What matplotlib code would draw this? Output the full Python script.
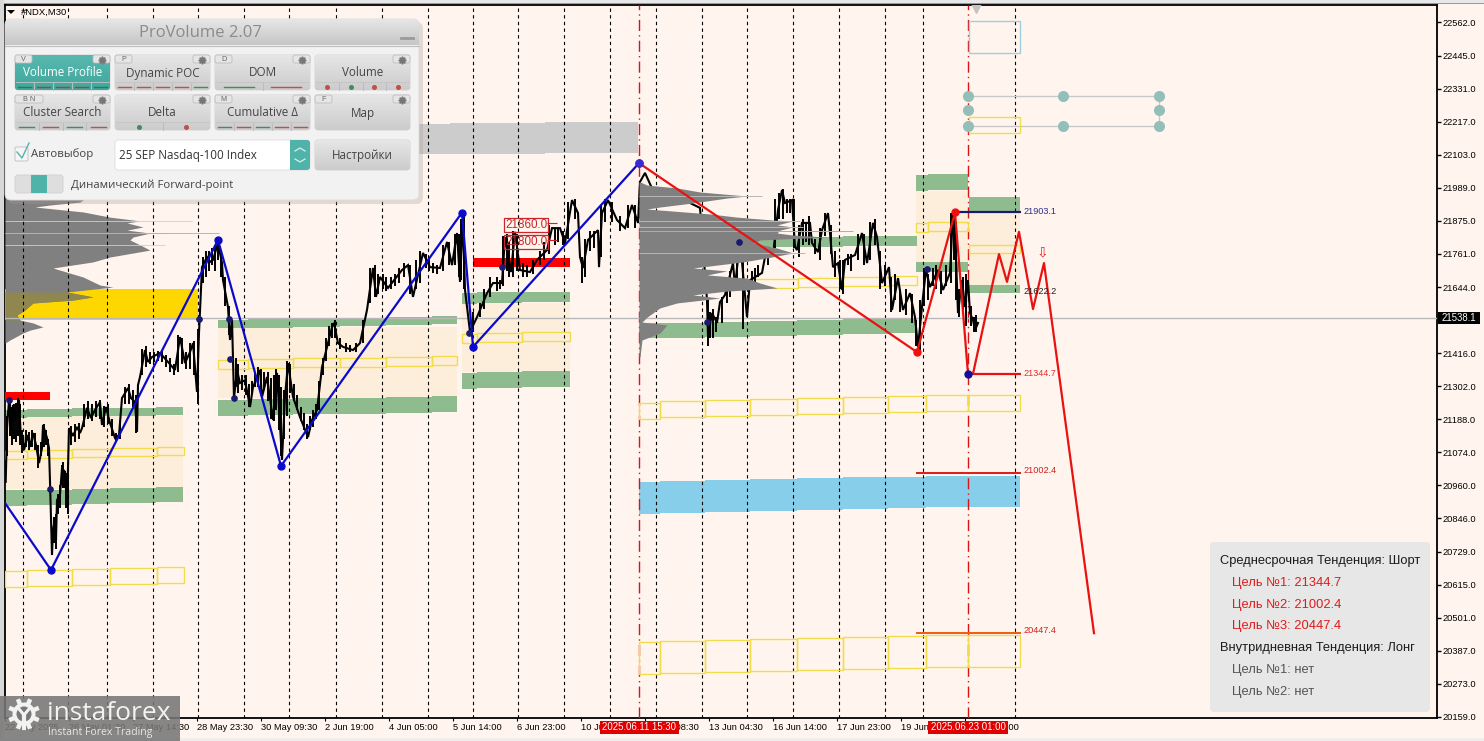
import numpy as np
import matplotlib
matplotlib.use('Agg')
import matplotlib.pyplot as plt
from matplotlib.patches import Rectangle, FancyBboxPatch, Circle, Polygon

# axis labels
price_ticks = [22562, 22445, 22331, 22217, 22103, 21989, 21875, 21761, 21644, 21416, 21302,
               21188, 21074, 20960, 20846, 20729, 20615, 20501, 20387, 20273, 20159]
time_pos = [5, 69, 133, 197, 261, 325, 389, 453, 517, 581, 645, 709, 773, 837, 901, 965]
time_labels = ['22 May 2025', '26 May 01:30', '27 May 14:30', '28 May 23:30', '30 May 09:30',
               '2 Jun 19:00', '4 Jun 05:00', '5 Jun 14:00', '6 Jun 23:00', '10 Jun 09:00',
               '12 Jun 08:30', '13 Jun 04:30', '16 Jun 14:00', '17 Jun 23:00', '19 Jun 09:00',
               '23 Jun 03:00']
grid_x = [23, 68, 107, 153, 198, 244, 289, 336, 382, 428, 473, 518, 564, 610, 656, 702, 747,
          793, 839, 885, 923, 1015]
marker_x = [639, 968]
last_price = 21538.1

# M30 price line
price_x = [5.7, 7, 9, 11, 13, 15, 17, 19, 21, 23, 24, 28, 30, 33, 36, 39, 42, 43, 47, 49, 50, 52,
           53, 55, 56, 57, 60, 62, 65, 67, 69, 73, 77, 80, 82, 87, 91, 95, 100, 102, 106, 110,
           115, 119, 122, 124, 128, 131, 135, 137, 138, 140, 145, 148, 152, 160, 168, 175, 180,
           185, 190, 193, 197, 199, 202, 207, 210, 213, 218, 222, 223, 228, 230, 232, 234, 237,
           240, 245, 250, 253, 260, 262, 267, 273, 277, 282, 285, 288, 293, 300, 308, 312, 317,
           322, 332, 334, 338, 343, 353, 360, 367, 373, 376, 380, 388, 402, 408, 413, 423, 430,
           440, 447, 452, 457, 460, 463, 465, 470, 477, 487, 493, 502, 505, 511, 515, 520, 530,
           537, 547, 552, 560, 565, 572, 578, 580, 583, 588, 598, 599, 602, 608, 617, 625, 632,
           638, 640, 645, 655, 670, 690, 700, 707, 708, 712, 717, 720, 725, 733, 735, 740, 747,
           750, 762, 765, 773, 778, 782, 785, 792, 795, 797, 802, 810, 812, 818, 822, 828, 830,
           833, 838, 842, 845, 855, 862, 867, 873, 877, 882, 889, 892, 898, 903, 910, 915, 918,
           923, 926, 930, 938, 943, 950, 953, 955, 958, 962, 965, 968, 970, 973, 975, 978]
price_y = [20971, 21157, 21254, 21150, 21237, 21185, 21237, 21254, 21116, 21133, 21081, 21133,
           21092, 21140, 21099, 21036, 21088, 21168, 21123, 21088, 20971, 20718, 20804, 20846,
           20770, 20908, 20926, 21019, 21005, 20881, 21157, 21130, 21161, 21140, 21157, 21227,
           21192, 21220, 21247, 21168, 21230, 21175, 21123, 21133, 21261, 21272, 21296, 21261,
           21247, 21144, 21306, 21334, 21427, 21386, 21403, 21417, 21386, 21358, 21472, 21382,
           21420, 21451, 21282, 21486, 21714, 21749, 21732, 21739, 21798, 21728, 21669, 21576,
           21462, 21531, 21261, 21358, 21313, 21323, 21230, 21299, 21358, 21265, 21334, 21185,
           21348, 21047, 21265, 21382, 21265, 21195, 21126, 21185, 21220, 21368, 21507, 21521,
           21451, 21438, 21427, 21451, 21566, 21711, 21611, 21680, 21642, 21704, 21721, 21611,
           21763, 21714, 21711, 21801, 21721, 21832, 21663, 21887, 21635, 21490, 21541, 21624,
           21659, 21659, 21818, 21697, 21836, 21704, 21697, 21739, 21773, 21849, 21849, 21798,
           21946, 21901, 21749, 21711, 21808, 21842, 21714, 21901, 21946, 21877, 21849, 21929,
           21867, 22009, 22040, 21964, 21946, 21936, 21919, 21600, 21472, 21555, 21521, 21593,
           21618, 21728, 21645, 21808, 21541, 21669, 21694, 21749, 21756, 21912, 21981, 21936,
           21946, 21784, 21773, 21867, 21867, 21798, 21766, 21842, 21901, 21832, 21714, 21728,
           21635, 21739, 21756, 21832, 21728, 21867, 21818, 21659, 21714, 21566, 21676, 21566,
           21624, 21541, 21438, 21611, 21704, 21645, 21704, 21635, 21694, 21901, 21842, 21555,
           21669, 21576, 21669, 21555, 21531, 21496, 21521]

# bar ranges along the line
bar_x = [7, 10, 12, 14, 16, 18, 20, 22, 26, 29, 32, 35, 38, 41, 44, 46, 48, 54, 56, 58, 60, 62, 63, 65,
         66, 68, 71, 75, 79, 84, 88, 92, 96, 100, 104, 108, 112, 116, 120, 125, 129, 133, 136, 142, 146,
         150, 154, 158, 162, 166, 170, 174, 178, 182, 186, 190, 194, 198, 203, 206, 209, 212, 215, 218,
         221, 225, 229, 236, 238, 242, 246, 249, 252, 255, 258, 261, 264, 268, 271, 274, 276, 279, 281,
         284, 287, 290, 294, 297, 301, 304, 307, 310, 313, 316, 319, 323, 326, 329, 332, 335, 340, 346,
         350, 356, 363, 370, 375, 378, 383, 386, 391, 395, 399, 404, 410, 416, 420, 426, 429, 433, 437,
         443, 449, 455, 459, 461, 464, 473, 480, 484, 490, 497, 500, 503, 507, 509, 513, 517, 523, 527,
         533, 540, 544, 549, 555, 558, 563, 568, 575, 582, 585, 590, 594, 601, 605, 612, 620, 628, 635,
         708, 710, 713, 716, 722, 727, 730, 737, 743, 752, 755, 758, 768, 775, 779, 783, 787, 790, 794,
         799, 803, 806, 809, 815, 820, 825, 831, 835, 840, 843, 848, 851, 858, 864, 870, 875, 880, 885,
         891, 895, 900, 906, 912, 916, 920, 924, 928, 933, 936, 941, 946, 951, 954, 956, 959, 963, 966,
         971, 974, 976]
bar_lo = [21060, 21130, 21100, 21120, 21110, 21130, 21100, 21070, 21090, 21080, 21090, 21080, 21020,
          21060, 21090, 21100, 21060, 20760, 20740, 20860, 20880, 20960, 20950, 20950, 20880, 20860,
          21100, 21110, 21120, 21160, 21190, 21180, 21195, 21190, 21160, 21170, 21130, 21110, 21120,
          21240, 21240, 21230, 21140, 21340, 21370, 21380, 21385, 21390, 21385, 21370, 21350, 21340,
          21350, 21380, 21360, 21360, 21340, 21240, 21660, 21680, 21700, 21720, 21700, 21740, 21680,
          21580, 21480, 21300, 21280, 21290, 21270, 21230, 21280, 21300, 21300, 21270, 21290, 21250,
          21190, 21180, 21220, 21150, 21060, 21120, 21200, 21280, 21250, 21220, 21180, 21150, 21120,
          21150, 21160, 21190, 21220, 21340, 21390, 21440, 21470, 21470, 21430, 21420, 21420, 21420,
          21450, 21590, 21610, 21620, 21640, 21630, 21640, 21650, 21660, 21680, 21620, 21640, 21660,
          21710, 21700, 21695, 21690, 21700, 21720, 21720, 21680, 21670, 21640, 21490, 21540, 21570,
          21610, 21630, 21640, 21650, 21700, 21680, 21680, 21700, 21680, 21680, 21690, 21720, 21740,
          21760, 21790, 21800, 21790, 21810, 21880, 21660, 21680, 21770, 21780, 21750, 21870, 21870,
          21840, 21850, 21850, 21440, 21470, 21470, 21490, 21520, 21590, 21610, 21640, 21500, 21650,
          21660, 21680, 21720, 21780, 21880, 21880, 21900, 21900, 21780, 21750, 21790, 21800, 21790,
          21760, 21740, 21820, 21760, 21680, 21640, 21620, 21720, 21700, 21740, 21720, 21740, 21790,
          21640, 21650, 21560, 21600, 21560, 21550, 21520, 21440, 21420, 21580, 21600, 21650, 21640,
          21620, 21650, 21660, 21740, 21600, 21540, 21560, 21510, 21510, 21490, 21490]
bar_hi = [21200, 21250, 21230, 21240, 21245, 21260, 21240, 21150, 21150, 21145, 21150, 21140, 21100,
          21110, 21170, 21150, 21120, 20850, 20860, 20930, 20960, 21030, 21040, 21010, 21000, 21020,
          21165, 21170, 21175, 21240, 21250, 21240, 21250, 21255, 21235, 21240, 21190, 21140, 21180,
          21300, 21310, 21290, 21270, 21430, 21440, 21420, 21420, 21425, 21425, 21410, 21400, 21380,
          21480, 21470, 21420, 21450, 21460, 21500, 21750, 21770, 21770, 21780, 21790, 21800, 21770,
          21680, 21580, 21400, 21380, 21340, 21340, 21310, 21320, 21350, 21370, 21360, 21350, 21350,
          21330, 21340, 21360, 21340, 21300, 21290, 21390, 21380, 21310, 21270, 21230, 21210, 21170,
          21200, 21220, 21240, 21320, 21400, 21470, 21510, 21520, 21530, 21470, 21450, 21445, 21450,
          21530, 21710, 21720, 21690, 21690, 21680, 21680, 21690, 21710, 21730, 21720, 21740, 21770,
          21760, 21750, 21730, 21720, 21790, 21800, 21830, 21830, 21880, 21890, 21560, 21590, 21640,
          21680, 21680, 21670, 21820, 21830, 21800, 21840, 21830, 21730, 21720, 21740, 21770, 21800,
          21860, 21850, 21850, 21840, 21940, 21950, 21750, 21810, 21840, 21840, 21930, 21950, 21940,
          21890, 21930, 21930, 21600, 21560, 21570, 21540, 21610, 21660, 21700, 21730, 21800, 21700,
          21710, 21720, 21770, 21950, 21970, 21985, 21950, 21950, 21950, 21860, 21880, 21870, 21890,
          21810, 21850, 21900, 21860, 21770, 21740, 21740, 21760, 21760, 21830, 21830, 21870, 21880,
          21770, 21720, 21680, 21690, 21640, 21640, 21620, 21530, 21600, 21710, 21690, 21710, 21720,
          21700, 21720, 21900, 21880, 21870, 21640, 21680, 21690, 21580, 21540, 21550]

# zigzags and forecast
blue_x = [5, 51, 218, 281, 462, 473, 639]
blue_y = [20898, 20666, 21808, 21026, 21903, 21438, 22074]
red_x = [639, 917, 955, 968]
red_y = [22074, 21420, 21903.1, 21344.7]
forecast_x = [973, 999, 1007, 1019, 1033, 1044, 1094]
forecast_y = [21344.7, 21759, 21663, 21836, 21569, 21728, 20447.4]
pivot_x = [9, 50, 199, 229, 230, 234, 469, 502, 707, 739, 927]
pivot_y = [21254, 20946, 21534, 21534, 21396, 21261, 21486, 21714, 21524, 21801, 21708]

# volume profiles
left_levels = [21964, 21939, 21929, 21922, 21905, 21887, 21874, 21867, 21853, 21842, 21832, 21818,
               21808, 21791, 21773, 21749, 21732, 21711, 21680, 21652, 21645, 21628, 21611, 21600,
               21590, 21566, 21548, 21531, 21521, 21507, 21496, 21486, 21462, 21451]
left_volume = [85, 75, 45, 30, 78, 105, 135, 122, 138, 122, 145, 128, 125, 135, 145, 105, 88, 48,
               78, 95, 108, 62, 88, 68, 28, 20, 12, 15, 28, 38, 25, 18, 5, 0]
right_levels = [22009, 21998, 21988, 21974, 21960, 21953, 21936, 21922, 21915, 21908, 21898, 21887,
                21877, 21874, 21860, 21853, 21842, 21832, 21825, 21818, 21808, 21798, 21780, 21763,
                21746, 21732, 21711, 21701, 21687, 21676, 21659, 21642, 21631, 21618, 21607, 21590,
                21573, 21541, 21524, 21514, 21486, 21462, 21403]
right_volume = [1, 8, 38, 61, 108, 88, 54, 21, 8, 34, 71, 98, 134, 154, 138, 154, 141, 138, 154, 188,
                121, 114, 138, 154, 128, 104, 54, 88, 68, 108, 121, 138, 88, 54, 81, 38, 21, 8, 3,
                28, 21, 3, 1]

# zones, left to right
a_edges = [5, 27, 72, 110, 156, 183]
a_top_hi = [21220, 21223, 21227, 21227, 21230]
a_top_lo = [21192, 21195, 21199, 21199, 21202]
a_bot_hi = [20943, 20943, 20946, 20950, 20953]
a_bot_lo = [20888, 20891, 20894, 20898, 20901]
a_box_edges = [5, 27, 72, 110, 157, 184]
a_box_hi = [21078, 21081, 21085, 21088, 21092]
a_box_lo = [21050, 21054, 21057, 21061, 21064]
a_low_hi = [20663, 20666, 20670, 20673, 20676]
a_low_lo = [20607, 20611, 20614, 20618, 20621]

b_edges = [218, 248, 293, 340, 386, 432, 457]
b_top_hi = [21531, 21534, 21534, 21538, 21541, 21545]
b_top_lo = [21503, 21503, 21507, 21510, 21514, 21517]
b_bot_hi = [21254, 21258, 21261, 21261, 21265, 21268]
b_bot_lo = [21199, 21202, 21206, 21206, 21209, 21213]
b_box_hi = [21393, 21396, 21400, 21400, 21403, 21406]
b_box_lo = [21362, 21365, 21368, 21368, 21372, 21375]

c_edges = [462, 477, 522, 570]
c_top_hi = [21624, 21628, 21628]
c_top_lo = [21586, 21590, 21593]
c_bot_hi = [21348, 21351, 21355]
c_bot_lo = [21293, 21296, 21299]
c_box_hi = [21483, 21486, 21490]
c_box_lo = [21451, 21455, 21458]

d_edges = [639, 705, 750, 797, 843, 888, 917]
d_bot_hi = [21521, 21524, 21528, 21531, 21534, 21538]
d_bot_lo = [21469, 21472, 21476, 21479, 21483, 21486]
d_up_edges = [700, 843, 917]
d_up_hi = [21818, 21822]
d_up_lo = [21784, 21787]
d_box_edges = [728, 747, 798, 843, 890, 917]
d_box_hi = [21669, 21673, 21676, 21680, 21683]
d_box_lo = [21642, 21642, 21645, 21649, 21652]

e_edges = [916, 928, 968]
e_top_hi = [22033, 22036]
e_top_lo = [21977, 21981]
e_bot_hi = [21732, 21732]
e_bot_lo = [21697, 21697]
e_box_hi = [21867, 21870]
e_box_lo = [21836, 21839]

f_edges = [969, 1020]
f_top_hi = [21957]
f_top_lo = [21905]
f_bot_hi = [21652]
f_bot_lo = [21624]
f_box_hi = [21791]
f_box_lo = [21763]
f_up_hi = [22233]
f_up_lo = [22178]
f_blue_hi = [22566]
f_blue_lo = [22455]

chain_edges = [639, 660, 705, 750, 797, 843, 888, 926, 968, 1020]
mid_hi = [21244, 21251, 21254, 21258, 21261, 21265, 21268, 21272, 21272]
mid_lo = [21189, 21195, 21199, 21202, 21206, 21209, 21213, 21216, 21216]
sky_hi = [20971, 20974, 20977, 20981, 20984, 20988, 20988, 20991, 20991]
sky_lo = [20860, 20863, 20867, 20870, 20874, 20877, 20881, 20884, 20884]
far_hi = [20417, 20420, 20424, 20427, 20431, 20434, 20438, 20441, 20441]
far_lo = [20306, 20310, 20313, 20317, 20320, 20324, 20327, 20330, 20330]

grey_edges = [300, 450, 545, 638]
grey_hi = [22208, 22212, 22216]
grey_lo = [22104, 22106, 22108]

# panel text
info_lines = ['Среднесрочная Тенденция: Шорт', 'Цель №1: 21344.7', 'Цель №2: 21002.4', 'Цель №3: 20447.4',
              'Внутридневная Тенденция: Лонг', 'Цель №1: нет', 'Цель №2: нет']
info_colors = ['#1c1c1c', '#e01b1b', '#e01b1b', '#e01b1b', '#1c1c1c', '#555555', '#555555']
info_indent = [0, 12, 12, 12, 0, 12, 12]
button_names = ['Volume Profile', 'Dynamic POC', 'DOM', 'Volume', 'Cluster Search', 'Delta', 'Cumulative Δ', 'Map']
button_tags = ['V', 'P', 'D', '', 'B N', '', 'M', 'F']
button_marks = ['-grrrg', '-rrrrg', '-gr', '.rgrr', '-grgr', '.gr', '-grgrr', '']

BG = '#fff5ee'
GREEN = '#8fbc8f'
BEIGE = '#fdeedb'
YELLOW = '#f3dc4a'
plt.rcParams['font.family'] = ['Liberation Sans', 'DejaVu Sans']

fig = plt.figure(figsize=(14.84, 7.41), dpi=100, facecolor=BG)
ax = fig.add_axes([5 / 1484, 1 - 718 / 741, (1437 - 5) / 1484, (718 - 5) / 741], facecolor=BG)
ax.set_xlim(5, 1437)
ax.set_ylim(21538 + (318 - 718) * 3.46, 21538 + (318 - 5) * 3.46)


def zone(edges, lo, hi, color, z=1):
    edges = np.array(edges)
    ax.bar(edges[:-1], np.array(hi) - np.array(lo), np.diff(edges), bottom=lo, align='edge',
           color=color, linewidth=0, zorder=z)


def boxes(edges, lo, hi, color=YELLOW, lw=1.0):
    edges = np.array(edges)
    ax.bar(edges[:-1], np.array(hi) - np.array(lo), np.diff(edges), bottom=lo, align='edge',
           facecolor='none', edgecolor=color, linewidth=lw, zorder=6)


# beige bodies, then green caps
zone([a_edges[0], a_edges[-1]], [a_bot_hi[2]], [a_top_lo[2]], BEIGE)
zone([b_edges[0], b_edges[-1]], [b_bot_hi[2]], [b_top_lo[2]], BEIGE)
zone([c_edges[0], c_edges[-1]], [c_bot_hi[1]], [c_top_lo[1]], BEIGE)
zone([e_edges[0], e_edges[-1]], [e_bot_hi[0]], [e_top_lo[0]], BEIGE)
zone(f_edges, f_bot_hi, f_top_lo, BEIGE)
for edges, lo, hi in [(a_edges, a_top_lo, a_top_hi), (a_edges, a_bot_lo, a_bot_hi),
                      (b_edges, b_top_lo, b_top_hi), (b_edges, b_bot_lo, b_bot_hi),
                      (c_edges, c_top_lo, c_top_hi), (c_edges, c_bot_lo, c_bot_hi),
                      (d_edges, d_bot_lo, d_bot_hi), (d_up_edges, d_up_lo, d_up_hi),
                      (e_edges, e_top_lo, e_top_hi), (e_edges, e_bot_lo, e_bot_hi),
                      (f_edges, f_top_lo, f_top_hi), (f_edges, f_bot_lo, f_bot_hi)]:
    zone(edges, lo, hi, GREEN, 2)
zone(chain_edges, sky_lo, sky_hi, '#87ceeb', 2)
zone(grey_edges, grey_lo, grey_hi, '#cccccc', 2)
zone([473, 570], [21714], [21746], '#ff0000', 3)
zone([5, 50], [21254], [21282], '#ff0000', 3)
zone([5, 198], [21530], [21640], '#ffd700', 3)

# volume profiles, gray over the gold band turns olive
left_levels = np.array(left_levels)
left_edge = 5 + np.array(left_volume)
ax.fill_betweenx(left_levels, 5, left_edge, color='#808080', linewidth=0, zorder=4)
ax.fill_betweenx(left_levels, 5, left_edge, where=(left_levels <= 21640) & (left_levels >= 21530),
                 color='#8f8650', linewidth=0, zorder=4.1)
ax.hlines([21874, 21832, 21791], 5, [192, 170, 165], color='#d8ccc8', linewidth=0.6, zorder=4)
ax.hlines([21832], 5, 219, color='#c9a0a0', linewidth=0.6, zorder=4)

grid_top = ax.get_ylim()
ax.vlines(grid_x, *grid_top, color='black', linewidth=0.8, linestyle=(0, (3, 3)), zorder=5)
ax.vlines(marker_x, *grid_top, color='#d81414', linewidth=1, linestyle=(0, (8, 3, 1, 3)), zorder=5)
ax.axhline(last_price, color='#b8b8b8', linewidth=1, zorder=5)

for edges, lo, hi in [(a_box_edges, a_box_lo, a_box_hi), (a_box_edges, a_low_lo, a_low_hi),
                      (b_edges, b_box_lo, b_box_hi), (c_edges, c_box_lo, c_box_hi),
                      (d_box_edges, d_box_lo, d_box_hi), (e_edges, e_box_lo, e_box_hi),
                      (f_edges, f_box_lo, f_box_hi), (f_edges, f_up_lo, f_up_hi),
                      (chain_edges, mid_lo, mid_hi), (chain_edges, far_lo, far_hi)]:
    boxes(edges, lo, hi)
boxes(f_edges, f_blue_lo, f_blue_hi, '#9fd0e0', 1)

# fibo-like handles on the right
ax.hlines([22306, 22202], 968, 1159, color='#c8c8c8', linewidth=1, zorder=5)
ax.vlines([1159], 22202, 22306, color='#c8c8c8', linewidth=1, zorder=5)
ax.plot([968, 1063, 1159, 968, 1159, 968, 1063, 1159],
        [22306, 22306, 22306, 22258, 22258, 22202, 22202, 22202],
        'o', color='#93bfb8', markersize=8, zorder=7, markeredgewidth=0)
ax.plot([976], [22610], 'v', color='#c4c4c4', markersize=7, zorder=7, clip_on=True)

ax.plot(price_x, price_y, color='black', linewidth=1.5, zorder=7, solid_joinstyle='miter')
ax.vlines(bar_x, bar_lo, bar_hi, color='black', linewidth=1.4, zorder=7)

# right profile sits over the price line
ax.fill_betweenx(right_levels, 639, 639 + np.array(right_volume), color='#808080', linewidth=0, zorder=8)
ax.hlines([21960, 21874, 21853, 21763], 639, [762, 800, 803, 805], color='#b8b8b8', linewidth=0.7, zorder=8)
ax.hlines([21838], 639, 853, color='#c9a0a0', linewidth=0.7, zorder=8)

ax.plot(blue_x, blue_y, color='#0a0acd', linewidth=1.6, zorder=9)
ax.plot(blue_x[1:], blue_y[1:], 'o', color='#0a0acd', markersize=5, zorder=10)
ax.plot(red_x, red_y, color='#e81212', linewidth=1.6, zorder=9)
ax.plot(forecast_x, forecast_y, color='#e81212', linewidth=1.6, zorder=9)
ax.plot(red_x[1:3], red_y[1:3], 'o', color='#f01010', markersize=5, zorder=10)
ax.plot(red_x[0], red_y[0], 'o', color='#3a2ad0', markersize=5, zorder=10)
ax.plot(red_x[3], red_y[3], 'o', color='#10109a', markersize=5, zorder=10)
ax.plot(pivot_x, pivot_y, 'o', color='#191970', markersize=3.8, zorder=10)

# target levels
ax.hlines([21903.1], 955, 1021, color='#191970', linewidth=1.6, zorder=9)
ax.hlines([21344.7], 973, 1021, color='#e81212', linewidth=1.6, zorder=9)
ax.hlines([21002.4], 916, 1021, color='#e01a1a', linewidth=1.4, zorder=9)
ax.hlines([20447.4], 916, 1021, color='#f05a14', linewidth=1.4, zorder=9)
for val, col, off in [(21903.1, '#2d2d8a', 2), (21622.2, '#222222', 6), (21344.7, '#e03030', 0),
                      (21002.4, '#d02020', 7), (20447.4, '#d02020', 8)]:
    ax.text(1023, val + off, f'{val:.1f}', color=col, fontsize=6.6, va='center', ha='left', zorder=11)
ax.text(1042.5, 21765, '⇩', color='#ee2020', fontsize=10, ha='center', va='center', family='DejaVu Sans', zorder=11)

# price alerts
for val in [21860.0, 21800.0]:
    ax.text(526, val, f'{val:.1f}', color='#c8262a', fontsize=8.4, ha='center', va='center', zorder=11,
            bbox=dict(boxstyle='square,pad=0.1', facecolor='none', edgecolor='#c8262a', linewidth=0.9))
    ax.hlines([val + 8], 547, 557, color='#c8262a', linewidth=0.8, zorder=11)

ax.set_yticks(price_ticks, [f'{p:.1f}' for p in price_ticks])
ax.set_xticks(time_pos, time_labels, ha='left')
ax.yaxis.tick_right()
ax.tick_params(axis='y', length=3, width=1, pad=1, labelsize=6.7, colors='black')
ax.tick_params(axis='x', length=2, width=0.8, pad=1.5, labelsize=6.7)
for s in ax.spines.values():
    s.set_linewidth(1.3)

# overlay in screen pixels: window frame, panel, flags, info box, logo
ui = fig.add_axes([0, 0, 1, 1], facecolor='none', zorder=5)
ui.set_xlim(0, 1484)
ui.set_ylim(741, 0)
ui.axis('off')
ui.add_patch(Rectangle((0, 0), 1484, 3, color='#e8e8e8', lw=0))
ui.add_patch(Rectangle((0, 3), 1484, 1.3, color='#9a9a9a', lw=0))
ui.add_patch(Rectangle((0, 0), 3.5, 741, color='#d8d8d8', lw=0))
ui.add_patch(Rectangle((0, 738), 1484, 3, color='#eeeeee', lw=0))
ui.add_patch(Polygon([(7, 10), (15, 10), (11, 14)], color='black', lw=0))
ui.text(21, 12.5, '#NDX,M30', fontsize=6.8, va='center', color='black')


def rbox(x0, y0, x1, y1, fc, ec='none', r=3, z=2, lw=0.6, alpha=None):
    p = FancyBboxPatch((x0 + r, y0 + r), x1 - x0 - 2 * r, y1 - y0 - 2 * r,
                       boxstyle=f'round,pad={r},rounding_size={r}', fc=fc, ec=ec, lw=lw, zorder=z, alpha=alpha)
    ui.add_patch(p)
    return p


def grad(x0, y0, x1, y1, top, bottom, clip, z=3):
    col = np.linspace(0, 1, 32)[:, None, None]
    rgb = np.array(matplotlib.colors.to_rgb(top)) * (1 - col) + np.array(matplotlib.colors.to_rgb(bottom)) * col
    im = ui.imshow(rgb, extent=(x0, x1, y1, y0), aspect='auto', zorder=z, interpolation='bilinear')
    im.set_clip_path(clip)


PANEL_FONT = ['Open Sans', 'DejaVu Sans']
rbox(7, 22, 423, 204, '#a89a90', alpha=0.3, r=7, z=1.5)
panel = rbox(5, 19, 419, 200, '#f2f2f2', ec='#dadada', r=6)
grad(5, 19, 419, 45, '#e6e6e6', '#c6c6c6', panel)
ui.plot([5, 419], [45.5, 45.5], color='#bdbdbd', lw=0.8, zorder=4)
ui.text(200, 33, 'ProVolume 2.07', fontsize=12, color='#8b8b8b', ha='center', va='center', family=PANEL_FONT, zorder=5)
ui.plot([401, 413], [37.5, 37.5], color='#9a9a9a', lw=2, zorder=5)

cols = [15, 115, 215, 315]
for i, name in enumerate(button_names):
    x0 = cols[i % 4]
    y0 = 55 if i < 4 else 95
    x1, y1 = x0 + 95, y0 + 35
    b = rbox(x0, y0, x1, y1, '#dcdcdc', ec='#cfcfcf', r=3, z=4)
    top, bot = ('#57b8ae', '#42a79d') if i == 0 else ('#e6e6e6', '#cccccc')
    grad(x0, y0, x1, y1, top, bot, b, 4.1)
    txt_col = 'white' if i == 0 else '#454545'
    ui.text((x0 + x1) / 2, y0 + 18, name, fontsize=8.4, color=txt_col, ha='center', va='center', family=PANEL_FONT, zorder=6)
    # corner tags
    tag = button_tags[i]
    if tag:
        w = 28 if ' ' in tag else 17
        rbox(x0, y0, x0 + w, y0 + 8, '#e6e6e6', ec='#bdbdbd', r=2, z=5)
        ui.text(x0 + w / 2, y0 + 4.5, tag, fontsize=5.2, color='#666666', ha='center', va='center', zorder=6)
    rbox(x1 - 17, y0, x1, y0 + 8, '#e6e6e6', ec='#bdbdbd', r=2, z=5)
    ui.plot([x1 - 8.5], [y0 + 4.5], marker=(8, 1, 0), color='#777777', markersize=5.5, zorder=6)
    # status strip
    marks = button_marks[i]
    if marks:
        kind, marks = marks[0], marks[1:]
        w = 95 / len(marks)
        for j, m in enumerate(marks):
            cx = x0 + w * (j + 0.5)
            col = '#3f8f5a' if m == 'g' else '#c0504a'
            if i == 0:
                col = '#1f7f5a' if m == 'g' else '#a8433a'
            if j:
                ui.plot([x0 + w * j] * 2, [y0 + 28, y1], color='#bdbdbd', lw=0.7, zorder=5)
            if kind == '-':
                ui.plot([cx - w * 0.32, cx + w * 0.32], [y0 + 31.5] * 2, color=col, lw=1, zorder=6)
            else:
                ui.plot([cx], [y0 + 31.5], 'o', color=col, markersize=2.6, zorder=6)
        ui.plot([x0 + 1, x1 - 1], [y0 + 27, y0 + 27], color='#c4c4c4', lw=0.6, zorder=5)

# checkbox, dropdown, toggle
rbox(15, 147, 28, 161, '#f5f5f5', ec='#bcbcbc', r=1.5, z=4)
ui.plot([17, 22, 29], [152, 158, 143], color='#55b5ab', lw=1, zorder=5)
ui.text(31, 154, 'Автовыбор', fontsize=8.2, color='#444444', va='center', family=PANEL_FONT, zorder=5)
rbox(115, 140, 310, 170, 'white', ec='#dcdcdc', r=3, z=4)
drop = rbox(290, 140, 310, 170, '#4fb3aa', r=3, z=4.1)
ui.add_patch(Rectangle((290, 140), 6, 30, color='#4fb3aa', lw=0, zorder=4.1))
ui.plot([295, 300, 305], [151, 148, 151], color='#d8efec', lw=0.9, zorder=5)
ui.plot([295, 300, 305], [159, 162, 159], color='#d8efec', lw=0.9, zorder=5)
ui.text(119, 155.5, '25 SEP Nasdaq-100 Index', fontsize=8.4, color='#333333', va='center', family=PANEL_FONT, zorder=5)
nb = rbox(315, 140, 410, 170, '#d8d8d8', ec='#cfcfcf', r=3, z=4)
grad(315, 140, 410, 170, '#e6e6e6', '#cccccc', nb, 4.1)
ui.text(362, 155.5, 'Настройки', fontsize=8.4, color='#454545', ha='center', va='center', family=PANEL_FONT, zorder=6)
rbox(15, 175, 63, 193, '#dedede', ec='#d0d0d0', r=3, z=4)
ui.add_patch(Rectangle((31, 175), 16, 18, color='#4fb3aa', lw=0, zorder=5))
ui.text(71, 185, 'Динамический Forward-point', fontsize=8.2, color='#444444', va='center', family=PANEL_FONT, zorder=5)

# time flags and price tag
for x0, x1, label in [(600, 679, '2025.06.11 15:30'), (928, 1008, '2025.06.23 01:00')]:
    ui.add_patch(Rectangle((x0, 721), x1 - x0, 13, color='#e00000', lw=0, zorder=4))
    ui.text((x0 + x1) / 2, 727.5, label, color='white', fontsize=6.9, ha='center', va='center', zorder=5)
ui.add_patch(Rectangle((1438, 312), 42, 12, color='black', lw=0, zorder=4))
ui.text(1459, 318, f'{last_price:.1f}', color='white', fontsize=6.9, ha='center', va='center', zorder=5)

# info box
rbox(1210, 542, 1430, 712, '#e7e7e7', r=4, z=3)
for k, (line, col, ind) in enumerate(zip(info_lines, info_colors, info_indent)):
    ui.text(1220 + ind, 561 + k * 21.8, line, color=col, fontsize=9.3, va='center', zorder=5)

# logo
LOGO = '#777777'
ui.add_patch(Rectangle((0, 696), 180, 45, color=LOGO, alpha=0.88, lw=0, zorder=6))
ui.text(47, 714, 'instaforex', color='#f2f2f2', fontsize=19, va='center', family=['Open Sans', 'DejaVu Sans'],
        zorder=7)
ui.text(48, 732, 'Instant Forex Trading', color='#e6e6e6', fontsize=7.6, va='center', family=['Open Sans', 'DejaVu Sans'], zorder=7)
# gear
for ang in np.deg2rad(np.arange(0, 360, 45) + 22.5):
    ui.plot([24 + 9 * np.cos(ang), 24 + 16 * np.cos(ang)], [714 + 9 * np.sin(ang), 714 + 16 * np.sin(ang)],
            color='#f2f2f2', lw=3.2, solid_capstyle='butt', zorder=7)
ui.add_patch(Circle((24, 714), 11.5, color='#f2f2f2', lw=0, zorder=7.05))
ui.add_patch(Circle((24, 714), 7.5, color=LOGO, lw=0, zorder=7.1))
ui.plot([19, 24, 29], [709, 715, 709], color='#f2f2f2', lw=2.2, zorder=7.2)
ui.plot([24, 24], [715, 728], color='#f2f2f2', lw=3, zorder=7.2)

fig.savefig('out.png', dpi=100, facecolor=BG)
